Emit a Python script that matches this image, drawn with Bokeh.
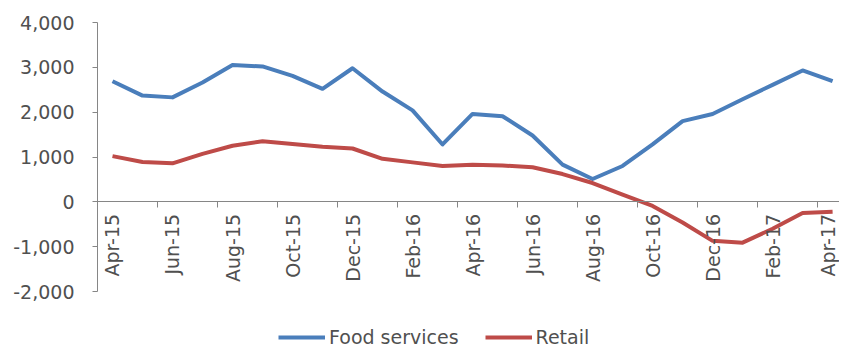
from math import pi
from bokeh.plotting import figure
from bokeh.models import (LinearAxis, FixedTicker, NumeralTickFormatter, Range1d,
                          Legend, LegendItem, ColumnDataSource)
from bokeh.embed import file_html
from bokeh.resources import INLINE

months = ["Apr-15", "May-15", "Jun-15", "Jul-15", "Aug-15", "Sep-15", "Oct-15", "Nov-15",
          "Dec-15", "Jan-16", "Feb-16", "Mar-16", "Apr-16", "May-16", "Jun-16", "Jul-16",
          "Aug-16", "Sep-16", "Oct-16", "Nov-16", "Dec-16", "Jan-17", "Feb-17", "Mar-17",
          "Apr-17"]
food_services = [2690, 2370, 2330, 2660, 3050, 3020, 2810, 2520, 2980, 2460, 2040, 1280,
                 1960, 1910, 1480, 830, 510, 800, 1280, 1800, 1960, 2290, 2610, 2930, 2690]
retail = [1020, 890, 860, 1070, 1250, 1350, 1290, 1230, 1190, 960, 880, 800,
          830, 810, 770, 620, 420, 160, -90, -460, -870, -910, -600, -250, -220]
y_ticks = [-2000, -1000, 0, 1000, 2000, 3000, 4000]

FONT = "DejaVu Sans"
FS = "19px"
TXT = "#505050"
BLUE = "#4A7EBB"
RED = "#BE4B48"

x = list(range(len(months)))
src = ColumnDataSource(dict(x=x, food=food_services, retail=retail))

# frame spans to the bottom of the figure; axis/grid limited to -2000..4000
p = figure(width=839, height=348, output_backend="svg", toolbar_location=None,
           x_range=Range1d(-0.5, 24.23), y_range=Range1d(-3271, 4000),
           min_border_left=97, min_border_top=22, min_border_bottom=0, min_border_right=0,
           x_axis_type=None, y_axis_type=None)
p.outline_line_color = None
p.background_fill_color = "white"
p.border_fill_color = "white"

# y axis
yax = LinearAxis(ticker=FixedTicker(ticks=y_ticks), formatter=NumeralTickFormatter(format="0,0"),
                 bounds=(-2000, 4000))
yax.axis_line_color = "#868686"
yax.major_tick_line_color = "#868686"
yax.major_tick_in = 0
yax.major_tick_out = 5
yax.minor_tick_line_color = None
yax.major_label_standoff = 18
yax.major_label_text_font = FONT
yax.major_label_text_font_size = FS
yax.major_label_text_color = TXT
p.add_layout(yax, "left")

# grid
p.ygrid.ticker = FixedTicker(ticks=y_ticks)
p.ygrid.grid_line_color = "#cdcdcd"
p.ygrid.grid_line_width = 1
p.xgrid.grid_line_color = None

# category axis at y=0 : tick marks between categories
tick_pos = [i - 0.5 for i in range(0, len(months), 2)]
xax_ticks = LinearAxis(ticker=FixedTicker(ticks=tick_pos), fixed_location=0,
                       major_label_overrides={t: "" for t in tick_pos})
xax_ticks.axis_line_color = "#868686"
xax_ticks.major_tick_line_color = "#868686"
xax_ticks.major_tick_in = 0
xax_ticks.major_tick_out = 6
xax_ticks.minor_tick_line_color = None
xax_ticks.major_label_text_font_size = "0px"
p.add_layout(xax_ticks, "below")

lab_pos = list(range(0, len(months), 2))
xax_lab = LinearAxis(ticker=FixedTicker(ticks=lab_pos), fixed_location=0,
                     major_label_overrides={i: months[i] for i in lab_pos})
xax_lab.axis_line_color = None
xax_lab.major_tick_line_color = None
xax_lab.minor_tick_line_color = None
xax_lab.major_tick_in = 0
xax_lab.major_tick_out = 0
xax_lab.major_label_orientation = pi / 2
xax_lab.major_label_standoff = 12
xax_lab.major_label_text_font = FONT
xax_lab.major_label_text_font_size = FS
xax_lab.major_label_text_color = TXT
p.add_layout(xax_lab, "below")

r1 = p.line("x", "food", source=src, line_color=BLUE, line_width=4, line_join="round")
r2 = p.line("x", "retail", source=src, line_color=RED, line_width=4, line_join="round")

legend = Legend(items=[LegendItem(label="Food services", renderers=[r1]),
                       LegendItem(label="Retail", renderers=[r2])],
                orientation="horizontal", location=(181, 0))
legend.glyph_width = 47
legend.glyph_height = 16
legend.label_standoff = 4
legend.spacing = 26
legend.padding = 0
legend.margin = 0
legend.border_line_color = None
legend.background_fill_alpha = 0
legend.label_text_font = FONT
legend.label_text_font_size = FS
legend.label_text_color = TXT
p.add_layout(legend, "center")

open("out.html", "w").write(file_html(p, INLINE))
